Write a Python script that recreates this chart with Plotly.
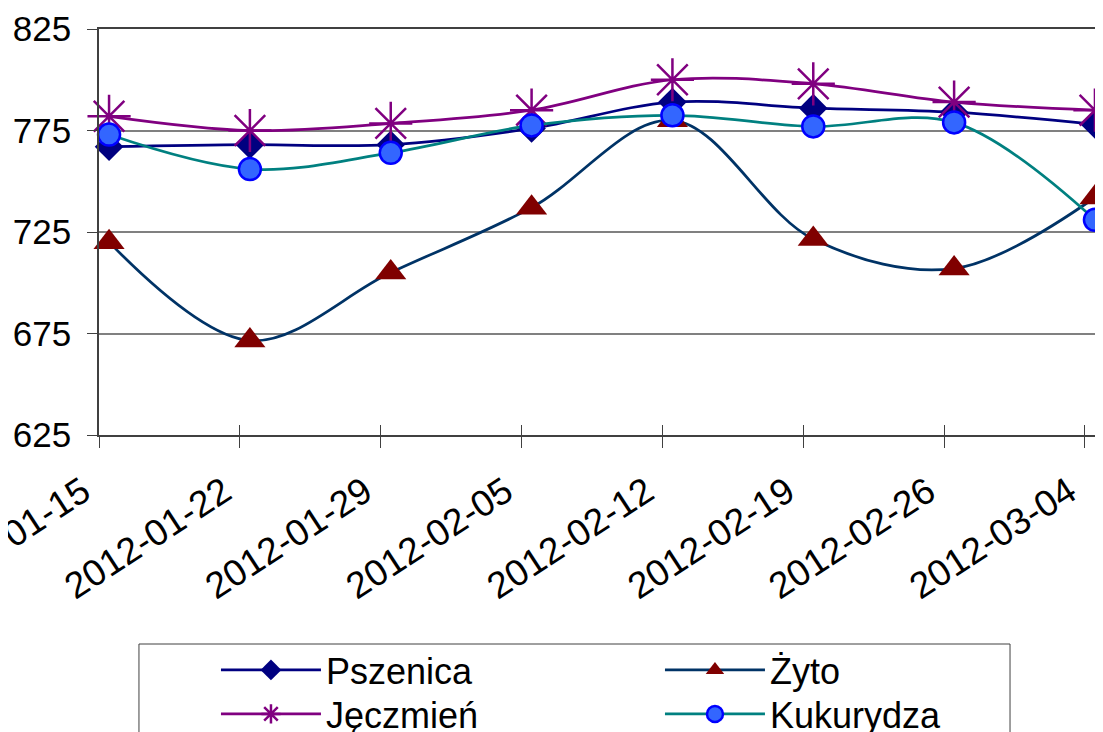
import pandas as pd
import plotly.graph_objects as go

dates = ["2012-01-15", "2012-01-22", "2012-01-29", "2012-02-05",
         "2012-02-12", "2012-02-19", "2012-02-26", "2012-03-04"]
pszenica = [767, 768, 768, 776, 789, 786, 784, 778]
zyto = [720, 671.5, 705, 737, 780, 721.5, 707, 742]
jeczmien = [782, 775, 778.5, 785, 800, 798, 789, 785]
kukurydza = [773, 756, 764, 777.5, 782.5, 777, 779, 731]
y_ticks = [625, 675, 725, 775, 825]

# Excel date axis: each point sits in the middle of its day slot
x = pd.to_datetime(dates) + pd.Timedelta(hours=12)

FONT = "Liberation Sans, Arial, sans-serif"

series = [
    dict(name="Pszenica", y=pszenica, line="#000080", legend="legend",
         marker=dict(symbol="diamond", size=22, color="#000080")),
    dict(name="Żyto", y=zyto, line="#003366", legend="legend",
         marker=dict(symbol="triangle-up", size=27, color="#800000")),
    dict(name="Jęczmień", y=jeczmien, line="#800080", legend="legend2",
         marker=dict(symbol="asterisk-open", size=36, color="#800080",
                     line=dict(color="#800080", width=2.5))),
    dict(name="Kukurydza", y=kukurydza, line="#008080", legend="legend2",
         marker=dict(symbol="circle", size=22, color="#3366FF",
                     line=dict(color="#0000FF", width=2.5))),
]

fig = go.Figure()
for s in series:
    fig.add_trace(go.Scatter(
        x=x, y=s["y"], name=s["name"], mode="lines+markers",
        line=dict(color=s["line"], width=2.75, shape="spline", smoothing=1),
        marker=s["marker"], cliponaxis=False, legend=s["legend"],
    ))

# helper trace for the inner half of the crossing x-axis tick marks
fig.add_trace(go.Scatter(x=[x[0]], y=[None], xaxis="x2", showlegend=False,
                         hoverinfo="skip", mode="markers"))

start = pd.Timestamp(dates[0])
end = start + pd.Timedelta(days=49.9)
WEEK = 7 * 24 * 3600 * 1000

legend_common = dict(
    orientation="h", x=0.1165, xanchor="left", yanchor="top",
    borderwidth=0, bgcolor="rgba(0,0,0,0)",
    font=dict(family=FONT, size=36, color="black"),
    itemwidth=100, entrywidth=329, entrywidthmode="pixels",
    traceorder="normal",
)

fig.update_layout(
    width=1095, height=724,
    margin=dict(l=91, r=0, t=21, b=297, autoexpand=False),
    paper_bgcolor="white", plot_bgcolor="white",
    font=dict(family=FONT, size=35, color="black"),
    showlegend=True,
    legend=dict(legend_common, y=-0.505),
    legend2=dict(legend_common, y=-0.6134),
    shapes=[dict(type="rect", xref="paper", yref="paper",
                 x0=0.0398, x1=0.9074, y0=-0.5148, y1=-0.95,
                 line=dict(color="#404040", width=1), fillcolor="rgba(0,0,0,0)")],
    xaxis=dict(
        type="date", range=[start, end],
        tick0=dates[0], dtick=WEEK, tickformat="%Y-%m-%d",
        tickangle=-33, ticks="outside", ticklen=11, tickcolor="#404040",
        showline=True, linecolor="#404040", linewidth=1.5, mirror=True,
        showgrid=False, zeroline=False, ticklabeloverflow="allow",
        tickfont=dict(family=FONT, size=37, color="black"),
        ticklabelstandoff=8, ticklabelshift=-16,
    ),
    xaxis2=dict(
        type="date", overlaying="x", matches="x", anchor="y", side="bottom",
        tick0=dates[0], dtick=WEEK, ticks="inside", ticklen=10,
        tickcolor="#404040", showticklabels=False, showline=False,
        showgrid=False, zeroline=False,
    ),
    yaxis=dict(
        range=[625, 825], tickvals=y_ticks,
        ticks="outside", ticklen=10, tickcolor="#404040",
        showline=True, linecolor="#404040", linewidth=1.5,
        showgrid=True, gridcolor="#808080", gridwidth=1.5, zeroline=False,
        tickfont=dict(family=FONT, size=35, color="black"),
        ticklabelstandoff=9,
    ),
)

fig.write_html("out.html")
